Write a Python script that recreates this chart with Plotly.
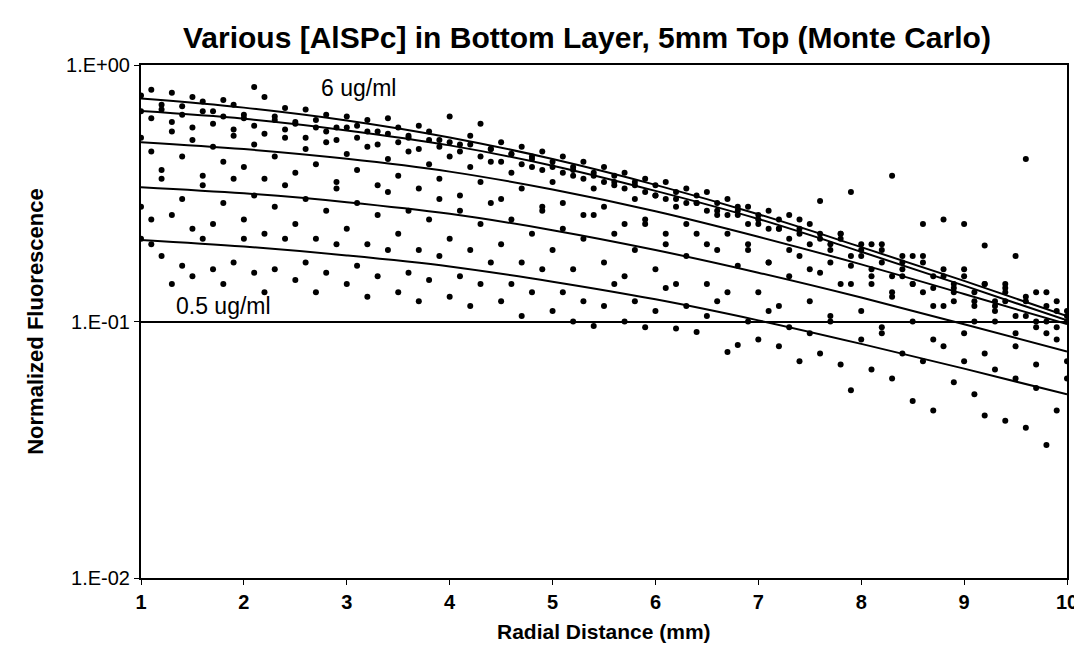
import plotly.graph_objects as go

# ---- data ----
radial_mm = [round(1 + 0.1 * i, 1) for i in range(91)]

conc_6_pts = [0.76, 0.80, 0.70, 0.78, 0.69, 0.75, 0.72, 0.66, 0.73, 0.70,
              0.64, 0.82, 0.75, 0.63, 0.68, 0.60, 0.67, 0.61, 0.64, 0.57,
              0.63, 0.58, 0.61, 0.55, 0.62, 0.57, 0.52, 0.58, 0.55, 0.51,
              0.63, 0.49, 0.53, 0.59, 0.47, 0.50, 0.45, 0.48, 0.43, 0.46,
              0.40, 0.44, 0.39, 0.42, 0.37, 0.40, 0.35, 0.38, 0.34, 0.36,
              0.31, 0.35, 0.30, 0.33, 0.29, 0.32, 0.27, 0.30, 0.26, 0.28,
              0.25, 0.27, 0.23, 0.26, 0.22, 0.24, 0.295, 0.20, 0.22, 0.32,
              0.18, 0.20, 0.17, 0.37, 0.16, 0.18, 0.24, 0.15, 0.25, 0.14,
              0.24, 0.13, 0.198, 0.12, 0.14, 0.18, 0.43, 0.13, 0.10, 0.12,
              0.10]
conc_4_pts = [0.66, 0.62, 0.67, 0.60, 0.64, 0.57, 0.66, 0.59, 0.63, 0.56,
              0.62, 0.58, 0.54, 0.61, 0.56, 0.59, 0.52, 0.57, 0.55, 0.51,
              0.57, 0.52, 0.55, 0.49, 0.54, 0.50, 0.53, 0.47, 0.51, 0.48,
              0.50, 0.46, 0.49, 0.44, 0.47, 0.42, 0.45, 0.41, 0.44, 0.39,
              0.42, 0.38, 0.40, 0.36, 0.38, 0.35, 0.37, 0.33, 0.35, 0.32,
              0.34, 0.30, 0.32, 0.29, 0.31, 0.27, 0.29, 0.26, 0.28, 0.24,
              0.26, 0.23, 0.25, 0.21, 0.23, 0.20, 0.22, 0.19, 0.21, 0.18,
              0.20, 0.16, 0.19, 0.15, 0.18, 0.14, 0.17, 0.135, 0.16, 0.13,
              0.15, 0.12, 0.14, 0.115, 0.13, 0.105, 0.125, 0.10, 0.115, 0.095,
              0.105]
conc_2_pts = [0.52, 0.46, 0.39, 0.55, 0.44, 0.51, 0.37, 0.48, 0.42, 0.53,
              0.40, 0.49, 0.36, 0.44, 0.52, 0.38, 0.47, 0.41, 0.50, 0.35,
              0.45, 0.39, 0.48, 0.34, 0.43, 0.37, 0.46, 0.33, 0.41, 0.36,
              0.44, 0.31, 0.40, 0.35, 0.42, 0.30, 0.38, 0.33, 0.40, 0.28,
              0.35, 0.29, 0.37, 0.26, 0.33, 0.28, 0.34, 0.24, 0.30, 0.25,
              0.31, 0.22, 0.28, 0.24, 0.29, 0.20, 0.26, 0.22, 0.27, 0.19,
              0.24, 0.17, 0.23, 0.19, 0.25, 0.16, 0.21, 0.17, 0.22, 0.14,
              0.19, 0.15, 0.20, 0.13, 0.17, 0.14, 0.18, 0.115, 0.15, 0.12,
              0.16, 0.10, 0.14, 0.11, 0.135, 0.09, 0.12, 0.095, 0.13, 0.085,
              0.11]
conc_1_pts = [0.28, 0.25, 0.36, 0.26, 0.30, 0.23, 0.34, 0.24, 0.29, 0.36,
              0.25, 0.31, 0.22, 0.28, 0.34, 0.24, 0.30, 0.21, 0.27, 0.33,
              0.23, 0.29, 0.20, 0.26, 0.32, 0.22, 0.27, 0.19, 0.25, 0.30,
              0.21, 0.27, 0.19, 0.24, 0.29, 0.20, 0.25, 0.17, 0.22, 0.27,
              0.19, 0.23, 0.16, 0.21, 0.26, 0.17, 0.22, 0.15, 0.19, 0.24,
              0.16, 0.20, 0.14, 0.18, 0.22, 0.14, 0.19, 0.13, 0.165, 0.20,
              0.13, 0.17, 0.115, 0.15, 0.18, 0.12, 0.155, 0.105, 0.14, 0.165,
              0.11, 0.14, 0.095, 0.125, 0.15, 0.10, 0.13, 0.085, 0.115, 0.135,
              0.09, 0.115, 0.075, 0.10, 0.12, 0.08, 0.105, 0.068, 0.09, 0.11,
              0.07]
conc_05_pts = [0.21, 0.20, 0.18, 0.14, 0.165, 0.15, 0.21, 0.16, 0.14, 0.17,
               0.21, 0.155, 0.13, 0.16, 0.21, 0.145, 0.17, 0.13, 0.155, 0.20,
               0.14, 0.165, 0.125, 0.15, 0.19, 0.13, 0.155, 0.12, 0.145, 0.18,
               0.125, 0.15, 0.115, 0.14, 0.17, 0.12, 0.14, 0.105, 0.13, 0.16,
               0.11, 0.13, 0.10, 0.12, 0.096, 0.115, 0.14, 0.10, 0.12, 0.095,
               0.11, 0.135, 0.094, 0.115, 0.091, 0.105, 0.12, 0.076, 0.081, 0.10,
               0.085, 0.11, 0.08, 0.095, 0.07, 0.09, 0.075, 0.10, 0.068, 0.054,
               0.085, 0.065, 0.09, 0.06, 0.075, 0.049, 0.07, 0.045, 0.08, 0.058,
               0.07, 0.052, 0.043, 0.065, 0.041, 0.06, 0.0385, 0.055, 0.033, 0.045,
               0.06]

fit_x = [1, 2, 3, 4, 5, 6, 7, 8, 9, 10]
fit_6 = [0.740, 0.682, 0.608, 0.522, 0.430, 0.341, 0.262, 0.195, 0.144, 0.105]
fit_4 = [0.661, 0.617, 0.556, 0.486, 0.405, 0.323, 0.251, 0.187, 0.138, 0.101]
fit_2 = [0.500, 0.470, 0.431, 0.384, 0.327, 0.269, 0.214, 0.167, 0.128, 0.0977]
fit_1 = [0.334, 0.316, 0.292, 0.263, 0.227, 0.190, 0.155, 0.124, 0.0975, 0.0764]
fit_05 = [0.208, 0.196, 0.181, 0.164, 0.143, 0.122, 0.101, 0.0818, 0.0655, 0.0520]

y_tick_vals = [1, 0.1, 0.01]
y_tick_text = ["1.E+00", "1.E-01", "1.E-02"]
x_tick_vals = [1, 2, 3, 4, 5, 6, 7, 8, 9, 10]

FONT = "Liberation Sans, Arial, sans-serif"

# plot-area pixel geometry (measured on the reference)
L, R, T, B = 133, 1066, 57, 570
W, H = R - L, B - T


def px(xp):
    return (xp - L) / W


def py(yp):
    return (B - yp) / H


fig = go.Figure()
for pts in [conc_6_pts, conc_4_pts, conc_2_pts, conc_1_pts, conc_05_pts]:
    fig.add_trace(go.Scatter(x=radial_mm, y=pts, mode="markers",
                             marker=dict(color="black", size=6),
                             showlegend=False, hoverinfo="skip"))
for fit in [fit_6, fit_4, fit_2, fit_1, fit_05]:
    fig.add_trace(go.Scatter(x=fit_x, y=fit, mode="lines",
                             line=dict(color="black", width=2, shape="spline",
                                       smoothing=1.0),
                             showlegend=False))

fig.update_layout(
    width=1082, height=648,
    margin=dict(l=L, r=1082 - R, t=T, b=648 - B),
    paper_bgcolor="white", plot_bgcolor="white",
    font=dict(family=FONT, color="black"),
    showlegend=False,
)
fig.update_xaxes(
    range=[1, 10], tickvals=x_tick_vals, ticks="outside", ticklen=5,
    tickcolor="black", tickwidth=1,
    showline=True, linecolor="black", linewidth=2, mirror=True,
    showgrid=False, zeroline=False,
    tickfont=dict(size=20, family=FONT, weight="bold"),
)
fig.update_yaxes(
    type="log", range=[-2, 0], tickvals=y_tick_vals, ticktext=y_tick_text,
    ticks="outside", ticklen=5, tickcolor="black",
    showline=True, linecolor="black", linewidth=2, mirror=True,
    showgrid=True, gridcolor="black", gridwidth=1.5, zeroline=False,
    tickfont=dict(size=20, family=FONT),
)

fig.add_annotation(text="<b>Various [AlSPc] in Bottom Layer, 5mm Top (Monte Carlo)</b>",
                   xref="paper", yref="paper", x=px(582), y=py(29),
                   xanchor="center", yanchor="middle", showarrow=False,
                   font=dict(size=30, family=FONT))
fig.add_annotation(text="<b>Radial Distance (mm)</b>",
                   xref="paper", yref="paper", x=px(600), y=py(624),
                   xanchor="center", yanchor="middle", showarrow=False,
                   font=dict(size=21, family=FONT))
fig.add_annotation(text="<b>Normalized Fluorescence</b>", textangle=-90,
                   xref="paper", yref="paper", x=px(26), y=py(313),
                   xanchor="center", yanchor="middle", showarrow=False,
                   font=dict(size=22, family=FONT))
fig.add_annotation(text="6 ug/ml", xref="paper", yref="paper",
                   x=px(352), y=py(80),
                   xanchor="center", yanchor="middle", showarrow=False,
                   font=dict(size=23, family=FONT))
fig.add_annotation(text="0.5 ug/ml", xref="paper", yref="paper",
                   x=px(216), y=py(298),
                   xanchor="center", yanchor="middle", showarrow=False,
                   font=dict(size=23, family=FONT))

fig.write_html("out.html")
